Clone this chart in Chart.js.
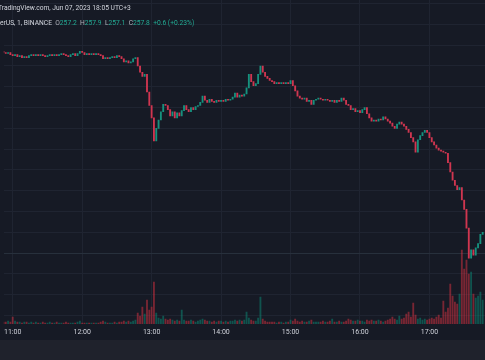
<!DOCTYPE html>
<html>
<head>
<meta charset="utf-8">
<script src="https://cdn.jsdelivr.net/npm/chart.js@4.4.0/dist/chart.umd.min.js"></script>
<style>
  html, body { margin: 0; padding: 0; background: #161a25; }
  #wrap { position: relative; width: 485px; height: 360px; overflow: hidden; background: #161a25; }
  #priceChart { position: absolute; left: 0; top: 0; }
  #band { position: absolute; left: 0; top: 340px; width: 485px; height: 20px; background: #1f222c; }
  .hdr { position: absolute; left: 0; font-family: Roboto, sans-serif; font-size: 6.7px; color: #b2b5be; white-space: nowrap; line-height: 9px; }
  .hdr .v { color: #22ab94; }
  .hdr .t { color: #d1d4dc; }
</style>
</head>
<body>
<div id="wrap">
  <canvas id="priceChart" width="485" height="340"></canvas>
  <div id="band"></div>
  <div class="hdr" style="top:4px; left:-2px;"><span class="t">TradingView.com, Jun 07, 2023 18:05 UTC+3</span></div>
  <div class="hdr" style="top:19px;"><span class="t">erUS, 1, BINANCE</span>&nbsp; O<span class="v">257.2</span>&nbsp; H<span class="v">257.9</span>&nbsp; L<span class="v">257.1</span>&nbsp; C<span class="v">257.8</span>&nbsp; <span class="v">+0.6 (+0.23%)</span></div>
</div>
<script>
// 2-minute bars starting 10:52 (minutes since midnight)
const startMinute = 652;
const barMinutes = 2;
const firstOpen = 281.4;

const closes = [
  281.3, 281.2, 281.3, 281.1, 281.0, 281.1, 280.9, 281.0, 280.8, 280.9,
  280.8, 281.0, 281.1, 281.0, 281.1, 281.0, 281.1, 281.0, 280.9, 281.0,
  281.1, 281.0, 281.1, 281.0, 281.1, 281.2, 281.1, 281.0, 280.9, 281.1,
  281.2, 281.0, 281.2, 281.4, 281.3, 281.1, 281.2, 281.1, 281.2, 281.1,
  281.2, 281.1, 281.0, 280.7, 280.8, 280.7, 280.8, 280.9, 280.8, 281.0,
  280.9, 280.7, 280.4, 280.5, 280.3, 280.4, 280.7, 280.8, 280.0, 279.4,
  279.0, 279.2, 277.5, 276.2, 275.0, 272.8, 274.0, 274.8, 275.6, 276.3,
  276.2, 275.8, 275.2, 275.6, 275.0, 275.5, 275.2, 275.7, 276.2, 275.8,
  275.6, 276.0, 275.8, 276.1, 276.2, 276.5, 277.1, 276.7, 276.5, 276.8,
  276.6, 276.5, 276.7, 276.6, 276.7, 276.6, 276.8, 276.7, 276.8, 277.0,
  277.4, 277.0, 277.2, 277.1, 277.3, 277.9, 279.2, 278.5, 278.1, 278.3,
  279.2, 280.0, 279.4, 279.0, 278.8, 278.6, 278.5, 278.3, 278.4, 278.3,
  278.4, 278.3, 278.4, 278.3, 278.6, 278.1, 277.6, 277.1, 276.9, 276.8,
  276.9, 276.6, 276.7, 276.3, 276.7, 276.8, 276.9, 276.8, 276.7, 276.8,
  276.7, 276.6, 276.7, 276.5, 276.7, 276.6, 276.9, 276.7, 276.3, 276.2,
  275.8, 275.9, 275.6, 275.7, 275.5, 275.8, 276.0, 275.4, 275.0, 274.7,
  274.8, 274.7, 274.9, 274.8, 275.1, 274.9, 274.7, 274.5, 274.2, 274.0,
  274.4, 274.6, 274.4, 274.2, 273.9, 273.6, 273.1, 272.7, 271.7, 272.9,
  273.3, 273.6, 273.8, 273.6, 273.1, 272.7, 272.4, 272.1, 271.9, 271.8,
  271.7, 271.6, 270.7, 269.8, 269.0, 268.5, 268.1, 268.3, 267.1, 266.2,
  264.4, 261.5, 262.3, 261.8, 262.5, 262.9, 263.8, 264.0
];

const volumes = [
  20, 20, 30, 20, 70, 30, 20, 20, 10, 20,
  20, 10, 20, 10, 20, 10, 10, 20, 10, 10,
  20, 10, 10, 20, 10, 10, 10, 20, 10, 10,
  10, 10, 20, 30, 10, 10, 10, 10, 10, 10,
  10, 10, 20, 30, 20, 10, 10, 10, 20, 10,
  20, 20, 30, 20, 30, 20, 30, 40, 110, 80,
  170, 100, 240, 140, 170, 420, 110, 60, 50, 80,
  50, 40, 50, 40, 30, 40, 30, 140, 40, 30,
  30, 40, 30, 20, 30, 40, 50, 40, 30, 30,
  20, 30, 20, 30, 30, 20, 30, 20, 30, 30,
  40, 30, 40, 30, 40, 120, 60, 40, 30, 30,
  60, 270, 50, 30, 20, 20, 20, 20, 10, 20,
  20, 10, 20, 20, 40, 30, 50, 30, 20, 30,
  20, 20, 30, 40, 20, 20, 20, 20, 30, 20,
  20, 30, 50, 20, 20, 30, 20, 20, 30, 50,
  40, 30, 30, 40, 30, 30, 20, 40, 30, 40,
  30, 30, 40, 30, 20, 30, 40, 50, 70, 50,
  40, 80, 50, 60, 100, 120, 70, 210, 90, 50,
  60, 40, 50, 40, 50, 60, 50, 70, 90, 60,
  230, 120, 160, 400, 280, 220, 200, 300, 740, 550,
  640, 500, 520, 300, 260, 280, 320, 240
];

const hourLabels = ['11:00', '12:00', '13:00', '14:00', '15:00', '16:00', '17:00'];
const firstHour = 660;

const upColor = '#16917e';
const downColor = '#d03650';
const upVol = 'rgba(8,153,129,0.45)';
const downVol = 'rgba(242,54,69,0.45)';

const candles = [];
const vols = [];
const candleColors = [];
const volColors = [];
for (let i = 0; i < closes.length; i++) {
  const t = startMinute + i * barMinutes;
  const open = i === 0 ? firstOpen : closes[i - 1];
  const up = closes[i] >= open;
  candles.push({ x: t, y: [open, closes[i]] });
  vols.push({ x: t, y: volumes[i] });
  candleColors.push(up ? upColor : downColor);
  volColors.push(up ? upVol : downVol);
}

new Chart(document.getElementById('priceChart'), {
  type: 'bar',
  data: {
    datasets: [
      {
        data: candles,
        backgroundColor: candleColors,
        barThickness: 1.2,
        minBarLength: 1,
        grouped: false,
        yAxisID: 'y',
        order: 0
      },
      {
        data: vols,
        backgroundColor: volColors,
        barThickness: 1.2,
        grouped: false,
        yAxisID: 'vol',
        order: 1
      }
    ]
  },
  options: {
    responsive: false,
    animation: false,
    layout: { padding: 0 },
    plugins: {
      legend: { display: false },
      tooltip: { enabled: false }
    },
    scales: {
      x: {
        type: 'linear',
        offset: false,
        min: 652.3,
        max: 1068,
        border: { display: false },
        grid: { color: '#1f2431', drawTicks: false, offset: false },
        ticks: {
          stepSize: 60,
          includeBounds: false,
          padding: 4,
          maxRotation: 0,
          color: '#cfd2da',
          font: { family: 'Roboto', size: 7 },
          callback: (v) => hourLabels[(v - firstHour) / 60]
        },
        afterFit: (s) => { s.height = 16; }
      },
      y: {
        min: 255.17,
        max: 286.35,
        border: { display: false },
        grid: {
          drawTicks: false,
          color: (c) => c.tick && c.tick.value === 262 ? '#27303c' : '#1f2431'
        },
        ticks: { display: false, stepSize: 2, includeBounds: false },
        afterFit: (s) => { s.width = 0; }
      },
      vol: {
        display: false,
        min: 0,
        max: 3240
      }
    }
  }
});
</script>
</body>
</html>
